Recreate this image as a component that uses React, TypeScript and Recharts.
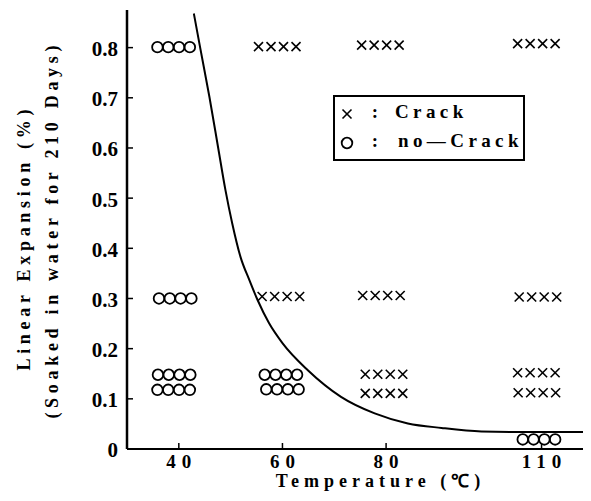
import React from 'react';
import { ComposedChart, Line, Scatter, XAxis, YAxis, Legend } from 'recharts';

const SERIF = 'Liberation Serif';

const xTicks = [40, 60, 80, 110];
const yTicks = [0, 0.1, 0.2, 0.3, 0.4, 0.5, 0.6, 0.7, 0.8];

// each point is a row of four specimens drawn around (x, y)
const crackPoints = [
  { x: 59.0, y: 0.802 },
  { x: 78.9, y: 0.805 },
  { x: 109.0, y: 0.808 },
  { x: 59.7, y: 0.304 },
  { x: 79.1, y: 0.306 },
  { x: 109.3, y: 0.303 },
  { x: 79.6, y: 0.149 },
  { x: 109.0, y: 0.152 },
  { x: 79.6, y: 0.111 },
  { x: 109.1, y: 0.112 },
];

const noCrackPoints = [
  { x: 39.0, y: 0.801 },
  { x: 39.3, y: 0.3 },
  { x: 39.1, y: 0.148 },
  { x: 39.0, y: 0.118 },
  { x: 59.7, y: 0.148 },
  { x: 60.0, y: 0.119 },
  { x: 109.5, y: 0.019 },
];

// crack / no-crack boundary
const boundaryCurve = [
  { x: 42.9, y: 0.868 },
  { x: 44.1, y: 0.801 },
  { x: 45.9, y: 0.702 },
  { x: 47.6, y: 0.6 },
  { x: 49.0, y: 0.516 },
  { x: 50.3, y: 0.45 },
  { x: 51.9, y: 0.383 },
  { x: 53.6, y: 0.337 },
  { x: 55.2, y: 0.297 },
  { x: 57.4, y: 0.251 },
  { x: 60.0, y: 0.211 },
  { x: 64.9, y: 0.157 },
  { x: 71.3, y: 0.104 },
  { x: 77.8, y: 0.071 },
  { x: 84.2, y: 0.051 },
  { x: 90.7, y: 0.042 },
  { x: 98.4, y: 0.035 },
  { x: 105.0, y: 0.034 },
  { x: 118.0, y: 0.034 },
];

const Cross = ({ cx, cy }: { cx: number; cy: number }) => (
  <g stroke="#000" strokeWidth={1.6}>
    <line x1={cx - 4.5} y1={cy - 4.5} x2={cx + 4.5} y2={cy + 4.5} />
    <line x1={cx - 4.5} y1={cy + 4.5} x2={cx + 4.5} y2={cy - 4.5} />
  </g>
);

const Ring = ({ cx, cy }: { cx: number; cy: number }) => (
  <circle cx={cx} cy={cy} r={5.3} fill="none" stroke="#000" strokeWidth={1.8} />
);

const OFFSETS = [-1.5, -0.5, 0.5, 1.5];

const CrossRow = (props: any) => (
  <g>
    {OFFSETS.map((o) => (
      <Cross key={o} cx={props.cx + o * 12.5} cy={props.cy} />
    ))}
  </g>
);

const RingRow = (props: any) => (
  <g>
    {OFFSETS.map((o) => (
      <Ring key={o} cx={props.cx + o * 10.8} cy={props.cy} />
    ))}
  </g>
);

const XTick = ({ x, y, payload }: any) => (
  <g>
    <line x1={x} y1={y} x2={x} y2={y - 6} stroke="#000" strokeWidth={1.5} />
    <text x={x} y={y + 19} dx={3} textAnchor="middle" fontSize={19} letterSpacing={6} fontWeight="bold" fontFamily={SERIF} fill="#000">
      {payload.value}
    </text>
  </g>
);

const YTick = ({ x, y, payload }: any) => (
  <g>
    <line x1={x} y1={y} x2={x + 6} y2={y} stroke="#000" strokeWidth={1.5} />
    <text x={x - 9} y={y} dy="0.4em" textAnchor="end" fontSize={21} fontWeight="bold" fontFamily={SERIF} fill="#000">
      {payload.value === 0 ? '0' : payload.value.toFixed(1)}
    </text>
  </g>
);

const YTitle = () => (
  <g fontFamily={SERIF} fontSize={18} fontWeight="bold" letterSpacing={4.7} fill="#000">
    <text transform="translate(24, 240) rotate(-90)" dx={2.3} textAnchor="middle" dominantBaseline="central">
      Linear Expansion (%)
    </text>
    <text transform="translate(52, 232) rotate(-90)" dx={2.3} textAnchor="middle" dominantBaseline="central">
      (Soaked in water for 210 Days)
    </text>
  </g>
);

const XTitle = () => (
  <text x={378} y={487} dx={2.5} textAnchor="middle" fontFamily={SERIF} fontSize={18} fontWeight="bold" letterSpacing={5} fill="#000">
    Temperature (℃)
  </text>
);

const LegendBox = () => (
  <div style={{ width: 188, height: 62, border: '2px solid #000', background: '#fff' }}>
    <svg width={188} height={62}>
      <g fontFamily={SERIF} fontSize={19} fontWeight="bold" letterSpacing={4.4} fill="#000">
        <Cross cx={12} cy={17} />
        <text x={42} y={21} textAnchor="middle">:</text>
        <text x={60} y={21}>Crack</text>
        <Ring cx={12} cy={46} />
        <text x={42} y={50} textAnchor="middle">:</text>
        <text x={63} y={50}>no—Crack</text>
      </g>
    </svg>
  </div>
);

export default function App() {
  return (
    <div style={{ position: 'absolute', left: 0, top: 0, background: '#fff' }}>
      <ComposedChart width={591} height={501} margin={{ top: 10, right: 8, bottom: 0, left: 0 }}>
        <XAxis
          type="number"
          dataKey="x"
          domain={[30, 118]}
          ticks={xTicks}
          allowDataOverflow
          height={52}
          tickSize={0}
          tickMargin={0}
          tick={<XTick />}
          axisLine={{ stroke: '#000', strokeWidth: 2 }}
          label={{ content: () => <XTitle /> }}
        />
        <YAxis
          type="number"
          domain={[0, 0.875]}
          ticks={yTicks}
          allowDataOverflow
          width={127}
          tickSize={0}
          tickMargin={0}
          tick={<YTick />}
          axisLine={{ stroke: '#000', strokeWidth: 2.5 }}
          label={{ content: () => <YTitle /> }}
        />
        <Line
          data={boundaryCurve}
          dataKey="y"
          type="monotone"
          dot={false}
          activeDot={false}
          stroke="#000"
          strokeWidth={2}
          isAnimationActive={false}
        />
        <Scatter data={crackPoints} dataKey="y" shape={<CrossRow />} isAnimationActive={false} />
        <Scatter data={noCrackPoints} dataKey="y" shape={<RingRow />} isAnimationActive={false} />
        <Legend
          layout="horizontal"
          verticalAlign="middle"
          align="center"
          wrapperStyle={{ left: 333, top: 95, width: 192, height: 66 }}
          content={() => <LegendBox />}
        />
      </ComposedChart>
    </div>
  );
}
